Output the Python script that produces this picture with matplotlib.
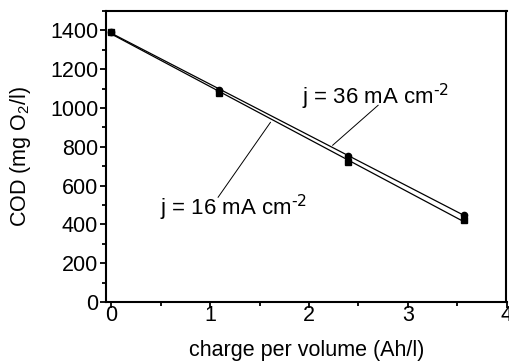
import numpy as np
import matplotlib
matplotlib.use('Agg')
import matplotlib.pyplot as plt
from matplotlib.ticker import MultipleLocator

plt.rcParams['font.family'] = ['Liberation Sans', 'DejaVu Sans']
plt.rcParams['mathtext.default'] = 'regular'
plt.rcParams['axes.unicode_minus'] = False

# data
charge = [0.0, 1.09, 2.40, 3.57]
cod_36 = [1390, 1091, 755, 448]
cod_16 = [1390, 1077, 722, 422]

fig = plt.figure(figsize=(5.10, 3.62), dpi=100)
ax = fig.add_axes([106.5/510, 60/362, 400/510, 291/362])

for y, mk in [(cod_36, 'o'), (cod_16, 's')]:
    k, b = np.polyfit(charge, y, 1)
    xs = np.array([charge[0], charge[-1]])
    ax.plot(xs, k*xs + b, color='black', lw=0.9)
    ax.plot(charge, y, mk, color='black', ms=4.5)

ax.text(1.93, 1055, 'j = 36 mA cm$^{\\text{-2}}$', fontsize=16, va='center', ha='left')
ax.plot([2.70, 2.24], [1014, 808], color='black', lw=0.7)
ax.text(0.49, 484, 'j = 16 mA cm$^{\\text{-2}}$', fontsize=16, va='center', ha='left')
ax.plot([1.08, 1.61], [540, 926], color='black', lw=0.7)

ax.set_xlim(-0.05, 4)
ax.set_ylim(0, 1500)
ax.xaxis.set_major_locator(MultipleLocator(1))
ax.xaxis.set_minor_locator(MultipleLocator(0.5))
ax.yaxis.set_major_locator(MultipleLocator(200))
ax.yaxis.set_minor_locator(MultipleLocator(100))
ax.tick_params(which='both', direction='out', width=1.3, labelsize=15.5, color='black')
ax.tick_params(which='major', length=4.5)
ax.tick_params(which='minor', length=3)
ax.tick_params(axis='x', pad=-2.5)
ax.tick_params(axis='y', pad=1.5)
for s in ax.spines.values():
    s.set_linewidth(1.5)

ax.set_xlabel('charge per volume (Ah/l)', fontsize=15.5, va='center')
ax.set_ylabel('COD (mg O$_2$/l)', fontsize=15.5, va='center')
ax.xaxis.set_label_coords(0.5, -0.165)
ax.yaxis.set_label_coords(-0.216, 0.5)

fig.savefig('out.png', dpi=100)
